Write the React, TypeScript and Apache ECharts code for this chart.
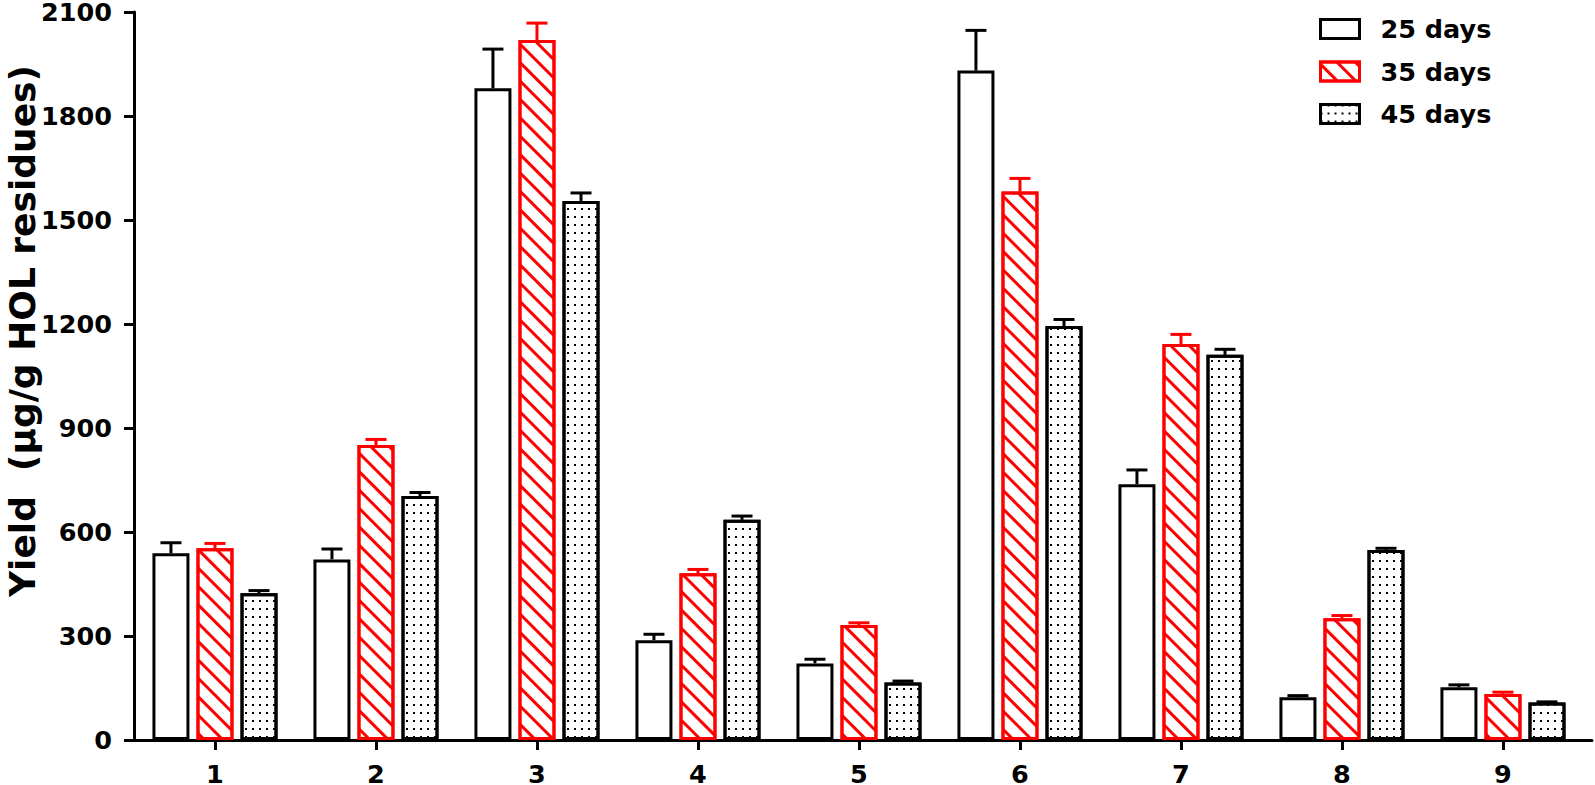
import React, { useEffect, useRef } from "react";
import * as echarts from "echarts";

const categories = [1, 2, 3, 4, 5, 6, 7, 8, 9];
const seriesNames = ["25 days", "35 days", "45 days"];
const days25 = [539, 521, 1880, 288, 221, 1931, 738, 123, 152];
const sd25 = [30, 30, 113, 17, 12, 116, 41, 5, 7];
const days35 = [553, 851, 2019, 481, 332, 1582, 1142, 351, 133];
const sd35 = [14, 16, 49, 11, 6, 38, 28, 8, 5];
const days45 = [423, 704, 1555, 635, 166, 1194, 1111, 548, 108];
const sd45 = [8, 10, 23, 11, 4, 19, 16, 5, 2];
const yMin = 0;
const yMax = 2100;
const yStep = 300;
const yTitle = "Yield  (µg/g HOL residues)";

const FONT = "DejaVu Sans";
const BAR_W = 37;
const BAR_GAP = 0.19;
const STEP = BAR_W * (1 + BAR_GAP);

export default function App() {
  const ref = useRef<HTMLDivElement>(null);
  useEffect(() => {
    if (!ref.current) return;
    document.body.style.margin = "0";
    const chart = echarts.init(ref.current, null, { renderer: "svg" });
    const means = [days25, days35, days45];
    const sds = [sd25, sd35, sd45];
    const colors = ["#000000", "#ff0000", "#000000"];
    const decals: any[] = [
      null,
      {
        symbol: "rect",
        symbolSize: 1,
        color: "#ff0000",
        backgroundColor: "rgba(0,0,0,0)",
        dashArrayX: [1, 0],
        dashArrayY: [3, 10],
        rotation: Math.PI / 4,
      },
      {
        symbol: "rect",
        symbolSize: 1,
        color: "#000000",
        backgroundColor: "rgba(0,0,0,0)",
        dashArrayX: [2, 4.5],
        dashArrayY: [2, 5.5],
        rotation: 0,
      },
    ];
    const barSeries = seriesNames.map((name, s) => ({
      name,
      type: "bar",
      barWidth: BAR_W,
      barGap: BAR_GAP * 100 + "%",
      data: categories.map((c, i) => [c, means[s][i]]),
      itemStyle: {
        color: "#ffffff",
        borderColor: colors[s],
        borderWidth: 3,
        ...(decals[s] ? { decal: decals[s] } : {}),
      },
      z: 2,
    }));
    const errSeries = seriesNames.map((name, s) => ({
      name: "err " + name,
      type: "custom",
      data: categories.map((c, i) => [c, means[s][i], sds[s][i]]),
      z: 3,
      renderItem: (params: any, api: any) => {
        const x = api.value(0);
        const m = api.value(1);
        const d = api.value(2);
        const p0 = api.coord([x, m]);
        const p1 = api.coord([x, m + d]);
        const cx = p0[0] + (s - 1) * STEP;
        const st = { stroke: colors[s], lineWidth: 3 };
        return {
          type: "group",
          children: [
            { type: "line", shape: { x1: cx, y1: p0[1], x2: cx, y2: p1[1] }, style: st },
            { type: "line", shape: { x1: cx - 10.5, y1: p1[1], x2: cx + 10.5, y2: p1[1] }, style: st },
          ],
        };
      },
    }));
    chart.setOption({
      animation: false,
      backgroundColor: "#ffffff",
      grid: { left: 134, right: 3, top: 12, bottom: 45, containLabel: false, outerBoundsMode: "none" },
      legend: {
        data: seriesNames,
        orient: "vertical",
        left: 1314,
        top: 11,
        itemWidth: 39,
        itemHeight: 19,
        itemGap: 16.5,
        icon: "rect",
        itemStyle: { borderWidth: 3 },
        textStyle: { fontFamily: FONT, fontWeight: "bold", fontSize: 25.5, color: "#000", padding: [0, 0, 0, 16] },
      },
      graphic: [
        {
          type: "text",
          x: 22,
          y: 331,
          rotation: Math.PI / 2,
          style: {
            text: yTitle,
            fontFamily: FONT,
            fontWeight: "bold",
            fontSize: 36,
            fill: "#000",
            align: "center",
            verticalAlign: "middle",
          },
        },
      ],
      xAxis: {
        type: "value",
        min: 0.497,
        max: 9.553,
        splitLine: { show: false },
        axisLine: { show: true, lineStyle: { color: "#000", width: 3 } },
        axisTick: { show: true, length: 10, lineStyle: { color: "#000", width: 3 }, customValues: categories },
        axisLabel: {
          customValues: categories,
          formatter: (v: number) => String(v),
          fontFamily: FONT,
          fontWeight: "bold",
          fontSize: 25.5,
          lineHeight: 20,
          color: "#000",
          margin: 24,
        },
      },
      yAxis: {
        type: "value",
        min: yMin,
        max: yMax,
        interval: yStep,
        splitLine: { show: false },
        axisLine: { show: true, lineStyle: { color: "#000", width: 3 } },
        axisTick: { show: true, length: 10, lineStyle: { color: "#000", width: 3 } },
        axisLabel: {
          formatter: (v: number) => String(v),
          fontFamily: FONT,
          fontWeight: "bold",
          fontSize: 25.5,
          lineHeight: 22,
          color: "#000",
          margin: 22,
        },
      },
      series: [...barSeries, ...errSeries],
    });
    return () => chart.dispose();
  }, []);
  return <div ref={ref} style={{ width: 1595, height: 785, background: "#fff" }} />;
}
